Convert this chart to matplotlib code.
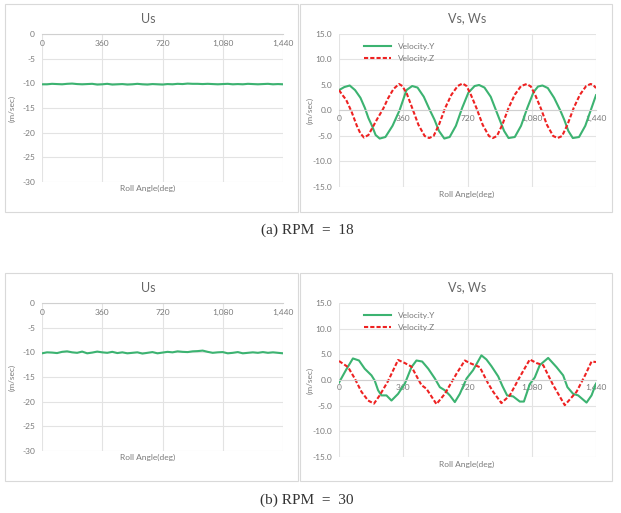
import matplotlib
matplotlib.use("Agg")
import matplotlib.pyplot as plt
from matplotlib.patches import Rectangle
from matplotlib.ticker import FuncFormatter, FormatStrFormatter

# ---- data ----
us_angle = list(range(0, 1441, 30))
us_a = [-10.2, -10.2, -10.1, -10.15, -10.2, -10.1, -10.05, -10.15, -10.2, -10.15,
        -10.1, -10.25, -10.2, -10.1, -10.25, -10.2, -10.15, -10.25, -10.2, -10.1,
        -10.2, -10.25, -10.15, -10.2, -10.25, -10.15, -10.2, -10.1, -10.15, -10.05,
        -10.1, -10.1, -10.15, -10.1, -10.15, -10.2, -10.15, -10.1, -10.2, -10.15,
        -10.2, -10.1, -10.15, -10.2, -10.15, -10.1, -10.2, -10.15, -10.2]
us_b = [-10.2, -10.0, -10.05, -10.15, -9.9, -9.8, -10.0, -10.1, -9.85, -10.2,
        -10.05, -9.85, -10.0, -10.1, -9.9, -10.15, -10.0, -10.2, -10.1, -10.0,
        -10.25, -10.1, -9.95, -10.2, -10.05, -9.9, -10.0, -9.8, -9.9, -9.95,
        -9.8, -9.75, -9.65, -9.9, -10.1, -10.0, -9.95, -10.2, -10.1, -9.95,
        -10.2, -10.1, -10.0, -10.1, -9.95, -10.1, -10.0, -10.1, -10.2]

vy_a_angle = [0, 30, 60, 90, 120, 145, 165, 185, 205, 228, 260, 300, 340, 378, 410,
              440, 475, 510, 535, 560, 590, 620, 655, 690, 725, 760, 785, 815, 850,
              880, 900, 925, 950, 985, 1020, 1055, 1090, 1115, 1140, 1170, 1205,
              1240, 1262, 1285, 1310, 1345, 1380, 1410, 1440]
vy_a = [4.0, 4.6, 4.9, 4.0, 2.5, 0.5, -1.5, -3.0, -4.8, -5.5, -5.2, -3.0, 0.1, 4.0,
        4.8, 4.5, 2.7, 0.0, -1.8, -4.0, -5.5, -5.2, -3.0, 0.5, 3.5, 4.8, 5.0, 4.5,
        2.7, 0.0, -1.8, -4.0, -5.4, -5.2, -3.0, 0.5, 3.6, 4.7, 4.9, 4.4, 2.5, 0.0,
        -1.8, -4.0, -5.4, -5.2, -3.0, 0.0, 3.0]
vz_a_angle = [0, 20, 40, 70, 100, 120, 140, 165, 190, 215, 247, 275, 305, 336, 355,
              380, 410, 445, 480, 505, 530, 560, 595, 630, 665, 692, 715, 740, 770,
              805, 840, 862, 885, 915, 950, 985, 1020, 1052, 1075, 1100, 1130, 1165,
              1200, 1225, 1250, 1280, 1315, 1350, 1385, 1410, 1425, 1440]
vz_a = [4.0, 3.0, 2.1, -0.2, -3.0, -4.5, -5.3, -4.8, -3.2, -1.6, 0.3, 2.4, 4.2, 5.2,
        4.8, 3.3, 0.5, -2.8, -5.0, -5.4, -5.0, -2.8, 0.5, 3.1, 4.8, 5.3, 4.8, 3.0,
        0.5, -2.8, -5.0, -5.4, -5.0, -2.8, 0.5, 3.1, 4.8, 5.2, 4.7, 3.0, 0.5, -2.8,
        -5.0, -5.4, -5.0, -2.8, 0.5, 3.1, 4.8, 5.2, 5.0, 4.4]

vy_b_angle = [0, 40, 78, 112, 144, 182, 200, 219, 238, 266, 294, 331, 369, 406, 434,
              466, 500, 537, 565, 593, 621, 649, 677, 715, 751, 798, 826, 854, 892,
              916, 942, 976, 1013, 1036, 1069, 1097, 1125, 1172, 1219, 1256, 1280,
              1312, 1340, 1387, 1415, 1440]
vy_b = [-0.5, 2.0, 4.2, 3.8, 2.2, 0.9, -0.1, -2.0, -3.0, -3.0, -4.0, -2.7, -0.7, 2.5,
        3.8, 3.6, 2.2, 0.3, -1.4, -2.0, -3.0, -4.3, -2.7, 0.3, 1.9, 4.8, 4.0, 2.7,
        0.7, -1.2, -3.0, -3.2, -4.2, -4.2, -0.8, 0.5, 2.9, 4.3, 2.5, 0.9, -1.4, -2.7,
        -3.0, -4.4, -3.0, -0.7]
vz_b_angle = [0, 51, 88, 126, 163, 196, 228, 275, 331, 369, 406, 462, 490, 546, 593,
              658, 705, 733, 789, 836, 864, 910, 957, 1013, 1069, 1107, 1144, 1200,
              1265, 1331, 1380, 1415, 1440]
vz_b = [3.7, 2.5, 0.3, -2.3, -4.0, -4.6, -3.0, -0.2, 3.9, 3.3, 2.6, -1.0, -1.7, -4.7,
        -2.7, 1.2, 3.8, 3.3, 2.5, -0.7, -2.3, -4.5, -3.0, 0.6, 4.0, 3.3, 2.9, -1.0,
        -4.9, -2.3, 1.0, 3.6, 3.5]

x_ticks = [0, 360, 720, 1080, 1440]

W, H = 621, 513
GREEN = "#3cb371"
RED = "#ee2222"
GRID = "#e3e3e3"
TXT = "#7a7a7a"
FONT = ["Lato", "DejaVu Sans"]

fig = plt.figure(figsize=(W / 100, H / 100), dpi=100)


def px_axes(x0, y0, x1, y1):
    return fig.add_axes([x0 / W, 1 - y1 / H, (x1 - x0) / W, (y1 - y0) / H])


def px_text(x, y, s, **kw):
    fig.text(x / W, 1 - y / H, s, **kw)


def panel_box(x0, y0, x1, y1):
    fig.patches.append(Rectangle((x0 / W, 1 - y1 / H), (x1 - x0) / W, (y1 - y0) / H,
                                 transform=fig.transFigure, fill=False,
                                 edgecolor="#d9d9d9", lw=0.8))


def style_axes(ax, ylo, yhi, yfmt, xpad):
    ax.set_xlim(0, 1440)
    ax.set_ylim(ylo, yhi)
    ax.set_xticks(x_ticks)
    ax.set_yticks(list(range(int(ylo), int(yhi) + 1, 5)))
    ax.xaxis.set_major_formatter(FuncFormatter(lambda v, p: f"{int(v):,}"))
    ax.yaxis.set_major_formatter(yfmt)
    ax.grid(True, color=GRID, lw=0.8)
    ax.set_axisbelow(True)
    for s in ["left", "right", "top"]:
        ax.spines[s].set_visible(False)
    ax.spines["bottom"].set_position(("data", 0))
    ax.spines["bottom"].set_color("#d0d0d0")
    ax.spines["bottom"].set_linewidth(0.8)
    ax.tick_params(axis="x", length=0, pad=xpad, labelsize=6, labelcolor=TXT)
    ax.tick_params(axis="y", length=0, pad=5, labelsize=6, labelcolor=TXT)
    for lab in ax.get_xticklabels() + ax.get_yticklabels():
        lab.set_family(FONT)


rows = [
    (4, 212, 34, 182, 187, us_a, vy_a_angle, vy_a, vz_a_angle, vz_a, 230, "(a) RPM  =  18"),
    (273, 481, 303, 451, 457, us_b, vy_b_angle, vy_b, vz_b_angle, vz_b, 500, "(b) RPM  =  30"),
]

for (top, bot, ay0, ay1l, ay1r, us, ya, yv, za, zv, cap_y, cap) in rows:
    panel_box(5, top, 298, bot)
    panel_box(300, top, 612, bot)

    # left panel: Us
    ax = px_axes(42, ay0, 283, ay1l)
    style_axes(ax, -30, 0, FormatStrFormatter("%d"), 4)
    ax.plot(us_angle, us, color=GREEN, lw=1.5)
    px_text(148, top + 15, "Us", ha="center", va="center", fontsize=9,
            color="#666666", family=FONT)
    px_text(148, ay1l + 6, "Roll Angle(deg)", ha="center", va="center", fontsize=6,
            color=TXT, family=FONT)
    px_text(12, (ay0 + ay1l) / 2, "(m/sec)", ha="center", va="center", fontsize=6,
            color=TXT, family=FONT, rotation=90)

    # right panel: Vs, Ws
    ax = px_axes(339, ay0, 596, ay1r)
    style_axes(ax, -15, 15, FormatStrFormatter("%.1f"), 3)
    ax.plot(ya, yv, color=GREEN, lw=1.5, label="Velocity.Y")
    ax.plot(za, zv, color=RED, lw=1.5, ls=(0, (2, 1)), label="Velocity.Z")
    leg = ax.legend(loc="upper left", bbox_to_anchor=(0.07, 0.99), frameon=False,
                    fontsize=6, handlelength=3.2, labelspacing=0.6,
                    prop={"family": FONT, "size": 6})
    for t in leg.get_texts():
        t.set_color(TXT)
    px_text(467, top + 14, "Vs, Ws", ha="center", va="center", fontsize=9,
            color="#666666", family=FONT)
    px_text(467, ay1r + 7, "Roll Angle(deg)", ha="center", va="center", fontsize=6,
            color=TXT, family=FONT)
    px_text(310, (ay0 + ay1r) / 2, "(m/sec)", ha="center", va="center", fontsize=6,
            color=TXT, family=FONT, rotation=90)

    px_text(307, cap_y, cap, ha="center", va="center", fontsize=11,
            color="#333333", family=["Liberation Serif", "DejaVu Serif"])

fig.savefig("out.png", dpi=100, facecolor="white")
